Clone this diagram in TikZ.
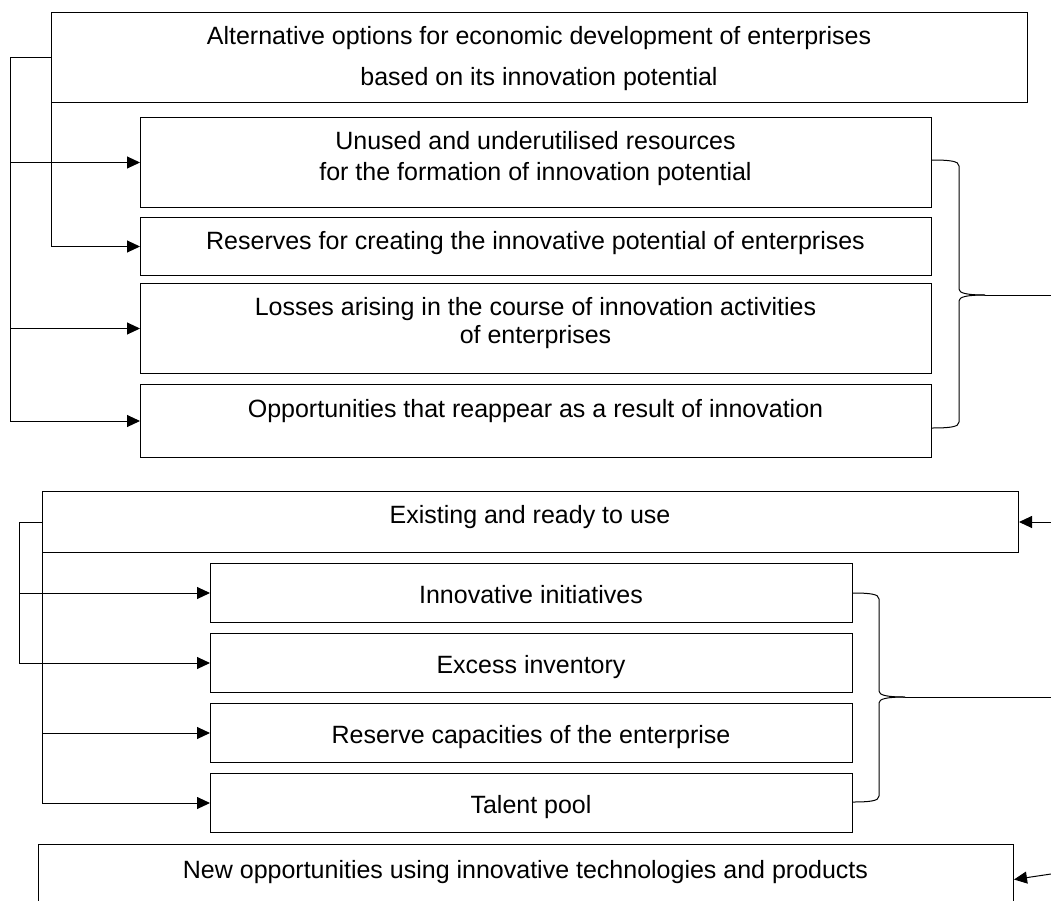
\documentclass[tikz,border=0pt]{standalone}
\usepackage{fontspec}
\setmainfont{Liberation Sans}
\usetikzlibrary{arrows.meta}
\begin{document}
\begin{tikzpicture}[x=1pt,y=-1pt,
  box/.style={draw=black,line width=1pt,rectangle,inner sep=0pt,anchor=north west},
  txt/.style={anchor=base,inner sep=0pt,font=\fontsize{25}{30}\selectfont},
  conn/.style={draw=black,line width=1pt},
  arr/.style={conn,-{Triangle[length=13pt,width=12pt]}}]
\useasboundingbox (0,0) rectangle (1051,900);
\clip (0,0) rectangle (1051,900);
% ---- section 1
\node[box,minimum width=976pt,minimum height=90pt] (T) at (51,12) {};
\node[txt] (tT1) at (539,44.5) {Alternative options for economic development of enterprises};
\node[txt] (tT2) at (539,85) {based on its innovation potential};
\node[box,minimum width=791pt,minimum height=90pt] (B1) at (140,117) {};
\node[txt] (tB1a) at (535.5,149) {Unused and underutilised resources};
\node[txt] (tB1b) at (535.5,180) {for the formation of innovation potential};
\node[box,minimum width=791pt,minimum height=58pt] (B2) at (140,217) {};
\node[txt] (tB2) at (535.5,249) {Reserves for creating the innovative potential of enterprises};
\node[box,minimum width=791pt,minimum height=90pt] (B3) at (140,283) {};
\node[txt] (tB3a) at (535.5,315) {Losses arising in the course of innovation activities};
\node[txt] (tB3b) at (535.5,343) {of enterprises};
\node[box,minimum width=791pt,minimum height=73pt] (B4) at (140,384) {};
\node[txt] (tB4) at (535.5,417) {Opportunities that reappear as a result of innovation};
\coordinate (bus1) at (10,0);
\draw[arr] (T.west) -- (T.west -| bus1) |- (B1.west);
\draw[arr] (T.west -| bus1) |- (B3.west);
\draw[arr] (T.west -| bus1) |- (B4.west);
\draw[arr] (T.south west) |- (B2.west);
% brace 1
\coordinate (br1a) at (931,160);
\coordinate (br1b) at (931,428);
\coordinate (br1m) at (985,295);
\coordinate (out1) at (1051,295);
\draw[conn] (br1a) .. controls (950,160) and (959,161) .. (959,166) -- (959,289) .. controls (959,293) and (966,295) .. (br1m);
\draw[conn] (br1b) .. controls (950,428) and (959,427) .. (959,422) -- (959,301) .. controls (959,297) and (966,295) .. (br1m);
\draw[conn] (br1m) -- (out1);
% ---- section 2
\node[box,minimum width=976pt,minimum height=61pt] (E) at (42,491) {};
\node[txt] (tE) at (530,523) {Existing and ready to use};
\coordinate (in1) at (1051,522);
\draw[arr] (in1) -- (E.east);
\node[box,minimum width=642pt,minimum height=59pt] (C1) at (210,563) {};
\node[txt] (tC1) at (531,603) {Innovative initiatives};
\node[box,minimum width=642pt,minimum height=59pt] (C2) at (210,633) {};
\node[txt] (tC2) at (531,673) {Excess inventory};
\node[box,minimum width=642pt,minimum height=59pt] (C3) at (210,703) {};
\node[txt] (tC3) at (531,743) {Reserve capacities of the enterprise};
\node[box,minimum width=642pt,minimum height=59pt] (C4) at (210,773) {};
\node[txt] (tC4) at (531,813) {Talent pool};
\coordinate (bus2) at (19,0);
\draw[arr] (E.west) -- (E.west -| bus2) |- (C1.west);
\draw[arr] (E.west -| bus2) |- (C2.west);
\draw[arr] (E.south west) |- (C3.west);
\draw[arr] (E.south west) |- (C4.west);
% brace 2
\coordinate (br2a) at (852,593);
\coordinate (br2b) at (852,802);
\coordinate (br2m) at (905,697);
\coordinate (out2) at (1051,697);
\draw[conn] (br2a) .. controls (870,593) and (879,594) .. (879,599) -- (879,691) .. controls (879,695) and (886,697) .. (br2m);
\draw[conn] (br2b) .. controls (870,802) and (879,801) .. (879,796) -- (879,703) .. controls (879,699) and (886,697) .. (br2m);
\draw[conn] (br2m) -- (out2);
% ---- section 3
\node[box,minimum width=975pt,minimum height=70pt] (N) at (38,844) {};
\node[txt] (tN) at (525.5,878) {New opportunities using innovative technologies and products};
\coordinate (in2) at (1051,874);
\draw[arr] (in2) -- (N.east);
\end{tikzpicture}
\end{document}
